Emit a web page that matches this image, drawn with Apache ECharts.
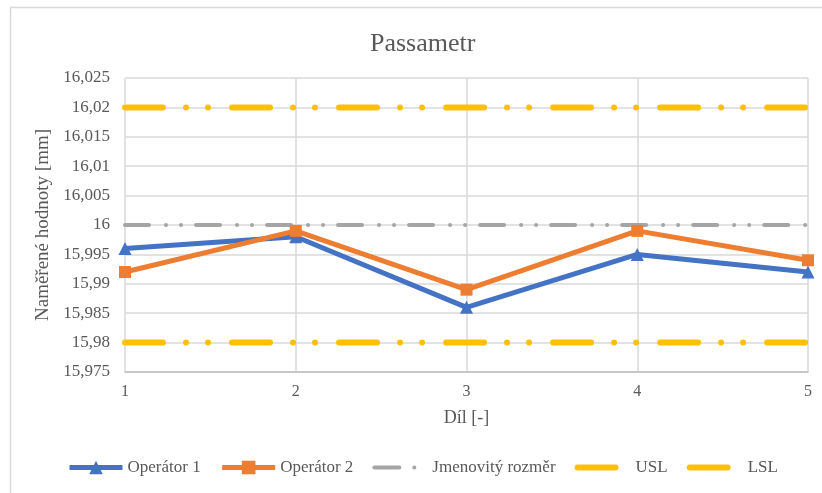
<!DOCTYPE html>
<html>
<head>
<meta charset="utf-8">
<script src="https://cdn.jsdelivr.net/npm/echarts@6/dist/echarts.min.js"></script>
<style>
html,body{margin:0;padding:0;background:#fff;}
#c{width:822px;height:493px;}
</style>
</head>
<body>
<div id="c"></div>
<script>
const categories = ['1', '2', '3', '4', '5'];
const operator1 = [15.996, 15.998, 15.986, 15.995, 15.992];
const operator2 = [15.992, 15.999, 15.989, 15.999, 15.994];
const nominal = [16, 16, 16, 16, 16];
const usl = [16.02, 16.02, 16.02, 16.02, 16.02];
const lsl = [15.98, 15.98, 15.98, 15.98, 15.98];
const seriesNames = ['Operátor 1', 'Operátor 2', 'Jmenovitý rozměr', 'USL', 'LSL'];
const yMin = 15.975, yMax = 16.025, yStep = 0.005;

const font = 'Liberation Serif, Times New Roman, serif';
const txt = '#595959';
const chart = echarts.init(document.getElementById('c'));
const fmt = v => String(parseFloat(Number(v).toFixed(3))).replace('.', ',');
const limitDash = [38, 23, 0.01, 22, 0.01, 24];
const nomDash = [24, 17, 0.01, 15, 0.01, 15];
const hidden = { color: 'rgba(0,0,0,0)', borderWidth: 0 };

chart.setOption({
  animation: false,
  backgroundColor: '#fff',
  graphic: [{
    type: 'rect', silent: true, z: -10,
    shape: { x: 10.5, y: 7.5, width: 830, height: 500 },
    style: { fill: 'none', stroke: '#D9D9D9', lineWidth: 1.5 }
  }],
  title: {
    text: 'Passametr', left: 365, top: 26,
    textStyle: { fontFamily: font, fontSize: 26, fontWeight: 'normal', color: txt }
  },
  grid: { left: 125, right: 14, top: 78, bottom: 121, containLabel: false },
  legend: {
    top: 454, left: 62,
    itemWidth: 53, itemHeight: 17, itemGap: 19,
    textStyle: { fontFamily: font, fontSize: 17, color: txt },
    data: [
      { name: seriesNames[0], lineStyle: { width: 5 } },
      { name: seriesNames[1], lineStyle: { width: 5 } },
      { name: seriesNames[2], itemStyle: hidden, lineStyle: { width: 4, type: [25, 15, 0.01, 100], cap: 'round' } },
      { name: seriesNames[3], itemStyle: hidden, lineStyle: { width: 6, type: [38, 100], cap: 'round' } },
      { name: seriesNames[4], itemStyle: hidden, lineStyle: { width: 6, type: [38, 100], cap: 'round' } }
    ]
  },
  xAxis: {
    type: 'category', data: categories, boundaryGap: false,
    name: 'Díl [-]', nameLocation: 'middle', nameGap: 37,
    nameTextStyle: { fontFamily: font, fontSize: 18, color: txt },
    axisLine: { lineStyle: { color: '#BFBFBF', width: 1.5 } },
    axisTick: { show: false },
    axisLabel: { fontFamily: font, fontSize: 16, color: txt, margin: 12 },
    splitLine: { show: true, lineStyle: { color: '#D9D9D9', width: 1.5 } }
  },
  yAxis: {
    type: 'value', min: yMin, max: yMax, interval: yStep,
    name: 'Naměřené hodnoty [mm]', nameLocation: 'middle', nameGap: 70,
    nameTextStyle: { fontFamily: font, fontSize: 19, color: txt },
    axisLine: { show: false },
    axisTick: { show: false },
    axisLabel: { fontFamily: font, fontSize: 17, color: txt, margin: 15, formatter: fmt },
    splitLine: { lineStyle: { color: '#D9D9D9', width: 1.5 } }
  },
  series: [
    {
      name: seriesNames[2], type: 'line', data: nominal, symbol: 'none', z: 2,
      itemStyle: { color: '#A5A5A5' },
      lineStyle: { color: '#A5A5A5', width: 4, type: nomDash, cap: 'round' }
    },
    {
      name: seriesNames[3], type: 'line', data: usl, symbol: 'none', z: 2,
      itemStyle: { color: '#FFC000' },
      lineStyle: { color: '#FFC000', width: 6, type: limitDash, cap: 'round' }
    },
    {
      name: seriesNames[4], type: 'line', data: lsl, symbol: 'none', z: 2,
      itemStyle: { color: '#FFC000' },
      lineStyle: { color: '#FFC000', width: 6, type: limitDash, cap: 'round' }
    },
    {
      name: seriesNames[0], type: 'line', data: operator1, z: 3,
      symbol: 'triangle', symbolSize: 13,
      itemStyle: { color: '#4472C4' },
      lineStyle: { color: '#4472C4', width: 5 }
    },
    {
      name: seriesNames[1], type: 'line', data: operator2, z: 4,
      symbol: 'rect', symbolSize: 12,
      itemStyle: { color: '#ED7D31' },
      lineStyle: { color: '#ED7D31', width: 5 }
    }
  ]
});
</script>
</body>
</html>
